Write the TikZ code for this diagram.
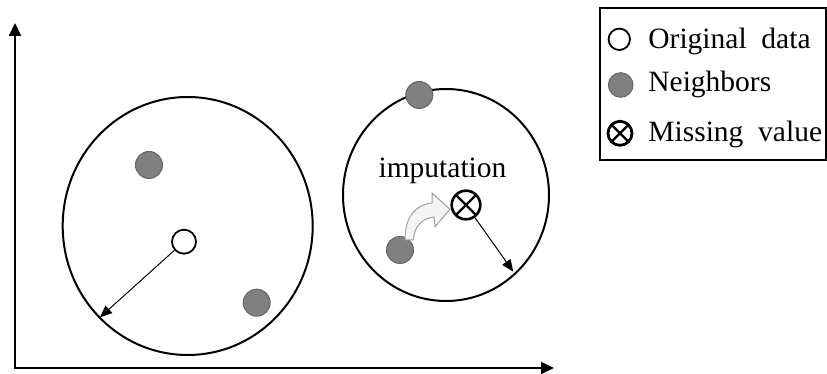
\documentclass[tikz,border=0pt]{standalone}
\usepackage{fontspec}
\setmainfont{Liberation Serif}
\usetikzlibrary{arrows.meta,positioning}

\tikzset{
  axis/.style={line width=1pt, {Triangle[length=6.5pt,width=6pt]}-{Triangle[length=6.5pt,width=6pt]}},
  radius/.style={line width=0.5pt, -{Triangle[length=6pt,width=5pt]}},
  region/.style={line width=1pt},
  origpt/.style={circle, draw, line width=0.9pt, fill=white, inner sep=0pt, minimum size=#1},
  origpt/.default=12pt,
  nbrpt/.style={circle, draw=black!60, line width=0.5pt, fill=black!50, inner sep=0pt, minimum size=#1},
  nbrpt/.default=13.5pt,
  misspt/.style={circle, draw, line width=1.3pt, fill=white, inner sep=0pt, minimum size=#1,
    path picture={\draw[line width=1.1pt]
      (path picture bounding box.south west) -- (path picture bounding box.north east)
      (path picture bounding box.north west) -- (path picture bounding box.south east);}},
  misspt/.default=14.3pt,
  lbl/.style={anchor=base west, inner sep=0pt}
}

\begin{document}
\begin{tikzpicture}[x=0.5pt, y=-0.5pt, font=\fontsize{14.75}{17}\selectfont]
\useasboundingbox (0,0) rectangle (827,374);

% =========================================================
% axes
% =========================================================
\coordinate (origin) at (15,368);
\coordinate (ytip) at (15,23);
\coordinate (xtip) at (554,368);
\draw[axis] (ytip) -- (origin) -- (xtip);

% =========================================================
% LEFT: neighbourhood of the original data point
% =========================================================
\draw[region] (187.7,226) ellipse [x radius=62.5pt, y radius=64.5pt];
\node[nbrpt] (nbA) at (149,165) {};
\node[nbrpt] (nbB) at (256.7,302.7) {};
\node[origpt] (orig) at (184,241.7) {};
\coordinate (rimA) at (100,317.3);
\draw[radius] (orig) -- (rimA);

% =========================================================
% RIGHT: neighbourhood of the missing value
% =========================================================
\draw[region] (446,195) ellipse [x radius=51.5pt, y radius=53pt];
\node[nbrpt] (nbC) at (419.3,95) {};
\node[nbrpt] (nbD) at (400,250) {};
\node[misspt] (miss) at (466,205) {};
\coordinate (rimB) at (513.3,271.7);
\draw[radius] (miss) -- (rimB);

% curved block arrow: neighbour -> missing value
\draw[gray!75, fill=gray!8, line width=0.5pt]
  (405,240) .. controls (405,217) and (415,205) .. (432,203)
  -- (432,193) -- (450,209.3) -- (435,226.7) -- (434,217)
  .. controls (423,218) and (414,226) .. (413.3,240) -- cycle;
\node[anchor=base, inner sep=0pt] (imp) at (442.5,177.3) {imputation};

% =========================================================
% legend
% =========================================================
\draw[line width=1pt] (600,8) rectangle (826,160);
\node[origpt=10.7pt] (lgA) at (619.3,39.3) {};
\node[nbrpt=12.3pt] (lgB) at (620.7,85) {};
\node[misspt=12pt, line width=1.4pt] (lgC) at (620,133.3) {};
\node[lbl] (lgAt) at (648,49) {Original\ \ data};
\node[lbl] (lgBt) at (648,91.7) {Neighbors};
\node[lbl] (lgCt) at (648,141.7) {Missing\ \ value};

\end{tikzpicture}
\end{document}
